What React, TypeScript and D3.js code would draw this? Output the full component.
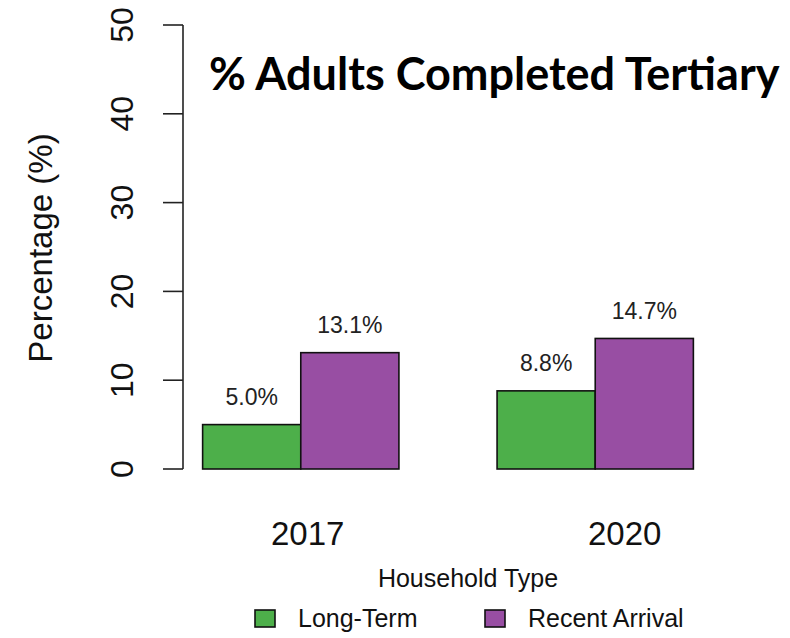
import React from "react";
import * as d3 from "d3";

const years = ["2017", "2020"];
const seriesNames = ["Long-Term", "Recent Arrival"];
const longTerm = [5.0, 8.8];
const recentArrival = [13.1, 14.7];
const yTicks = [0, 10, 20, 30, 40, 50];
const colors = ["#4DAF4A", "#984EA3"];

const W = 790;
const H = 638;
// x in "bar units": each group = 1 space + 2 bars
const x = d3.scaleLinear().domain([0.8, 6.2]).range([183, 713]);
const y = d3.scaleLinear().domain([0, 50]).range([469, 25]);
// year label nudges (units) as seen in reference
const yearLabelNudge = [0.07, 0.3];

export default function App() {
  const series = [longTerm, recentArrival];
  const bars: { x0: number; v: number; s: number }[] = [];
  years.forEach((_, g) => {
    series.forEach((vals, s) => {
      bars.push({ x0: 1 + 3 * g + s, v: vals[g], s });
    });
  });
  const font = "'Liberation Sans', Arial, sans-serif";
  return (
    <svg width={W} height={H} style={{ position: "absolute", left: 0, top: 0, background: "#fff" }}>
      <rect x={0} y={0} width={W} height={H} fill="#fff" />
      {/* y axis */}
      <line x1={183} x2={183} y1={y(0)} y2={y(50)} stroke="#222" strokeWidth={1.6} />
      {yTicks.map((t) => (
        <g key={t}>
          <line x1={163} x2={183} y1={y(t)} y2={y(t)} stroke="#222" strokeWidth={1.6} />
          <text
            transform={`translate(133,${y(t)}) rotate(-90)`}
            textAnchor="middle"
            fontFamily={font}
            fontSize={32}
            fill="#111"
          >
            {t}
          </text>
        </g>
      ))}
      <text
        transform={`translate(52,${248}) rotate(-90)`}
        textAnchor="middle"
        fontFamily={font}
        fontSize={33}
        fill="#111"
      >
        Percentage (%)
      </text>
      {/* bars */}
      {bars.map((b, i) => (
        <g key={i}>
          <rect
            x={x(b.x0)}
            y={y(b.v)}
            width={x(b.x0 + 1) - x(b.x0)}
            height={y(0) - y(b.v)}
            fill={colors[b.s]}
            stroke="#111"
            strokeWidth={1.6}
          />
          <text
            x={x(b.x0 + 0.5)}
            y={y(b.v + 2.2)}
            textAnchor="middle"
            fontFamily={font}
            fontSize={23}
            fill="#222"
          >
            {b.v.toFixed(1)}%
          </text>
        </g>
      ))}
      {/* year labels */}
      {years.map((yr, g) => (
        <text
          key={yr}
          x={x(2 + 3 * g + yearLabelNudge[g])}
          y={545}
          textAnchor="middle"
          fontFamily={font}
          fontSize={33}
          fill="#111"
        >
          {yr}
        </text>
      ))}
      {/* title */}
      <text x={209} y={90} fontFamily="Lato, 'Open Sans', sans-serif" fontWeight={700} fontSize={45} fill="#000">
        % Adults Completed Tertiary
      </text>
      {/* legend */}
      <text x={468} y={587} textAnchor="middle" fontFamily={font} fontSize={25} fill="#111">
        Household Type
      </text>
      {seriesNames.map((n, i) => (
        <g key={n} transform={`translate(${255 + i * 230},610)`}>
          <rect x={0} y={0} width={20} height={17} fill={colors[i]} stroke="#111" strokeWidth={1.6} />
          <text x={43} y={17} fontFamily={font} fontSize={25} fill="#111">
            {n}
          </text>
        </g>
      ))}
    </svg>
  );
}
